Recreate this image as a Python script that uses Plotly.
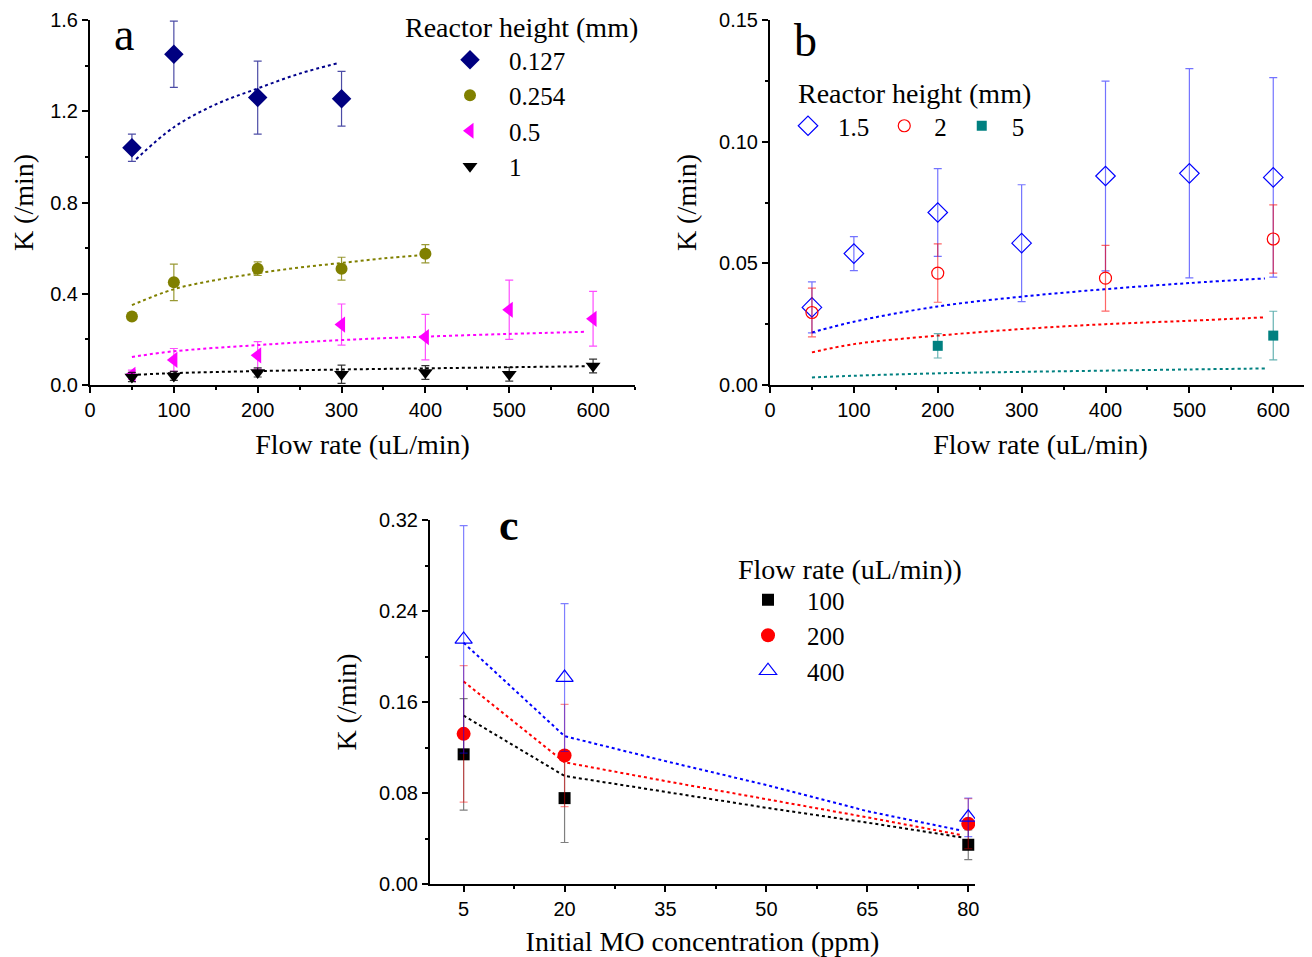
import plotly.graph_objects as go

# ---------------- Panel a data ----------------
a_flow_0127 = [50, 100, 200, 300]
a_k_0127 = [1.04, 1.45, 1.26, 1.255]
a_err_0127 = [0.06, 0.145, 0.16, 0.12]

a_flow_0254 = [50, 100, 200, 300, 400]
a_k_0254 = [0.30, 0.45, 0.51, 0.51, 0.575]
a_err_0254 = [0.01, 0.08, 0.03, 0.05, 0.04]

a_flow_05 = [50, 100, 200, 300, 400, 500, 600]
a_k_05 = [0.045, 0.11, 0.13, 0.265, 0.21, 0.33, 0.29]
a_err_05 = [0.02, 0.05, 0.06, 0.09, 0.10, 0.13, 0.12]

a_flow_1 = [50, 100, 200, 300, 400, 500, 600]
a_k_1 = [0.035, 0.04, 0.055, 0.047, 0.055, 0.047, 0.083]
a_err_1 = [0.02, 0.02, 0.02, 0.04, 0.03, 0.03, 0.03]

a_fitx_0127 = [55, 100, 150, 200, 250, 295]
a_fit_0127 = [0.99, 1.13, 1.23, 1.30, 1.365, 1.41]
a_fitx_0254 = [50, 100, 150, 200, 250, 300, 350, 400]
a_fit_0254 = [0.35, 0.42, 0.46, 0.49, 0.515, 0.535, 0.555, 0.57]
a_fitx_05 = [50, 100, 200, 300, 400, 500, 590]
a_fit_05 = [0.123, 0.148, 0.175, 0.197, 0.212, 0.224, 0.233]
a_fitx_1 = [50, 100, 200, 300, 400, 500, 590]
a_fit_1 = [0.044, 0.052, 0.061, 0.068, 0.073, 0.078, 0.082]

# ---------------- Panel b data ----------------
b_flow_15 = [50, 100, 200, 300, 400, 500, 600]
b_k_15 = [0.0319, 0.054, 0.0709, 0.0583, 0.0859, 0.087, 0.0853]
b_err_15 = [0.0105, 0.007, 0.018, 0.024, 0.039, 0.043, 0.041]

b_flow_2 = [50, 200, 400, 600]
b_k_2 = [0.0298, 0.046, 0.0439, 0.060]
b_err_2 = [0.010, 0.012, 0.0135, 0.014]

b_flow_5 = [200, 600]
b_k_5 = [0.0161, 0.0203]
b_err_5 = [0.005, 0.010]

b_fitx = [50, 100, 200, 300, 400, 500, 590]
b_fit_15 = [0.0216, 0.026, 0.0323, 0.0363, 0.0394, 0.0419, 0.0438]
b_fit_2 = [0.0134, 0.0168, 0.0203, 0.023, 0.025, 0.0264, 0.0278]
b_fit_5 = [0.0031, 0.0038, 0.0048, 0.0054, 0.0059, 0.0064, 0.0068]

# ---------------- Panel c data ----------------
c_conc = [5, 20, 80]
c_k_100 = [0.114, 0.0755, 0.0345]
c_err_100 = [0.049, 0.039, 0.013]
c_k_200 = [0.132, 0.113, 0.053]
c_err_200 = [0.06, 0.045, 0.022]
c_k_400 = [0.215, 0.1815, 0.0586]
c_err_400 = [0.10, 0.065, 0.017]

c_fitx = [5, 20, 35, 50, 65, 79]
c_fit_100 = [0.148, 0.095, 0.081, 0.067, 0.054, 0.041]
c_fit_200 = [0.178, 0.107, 0.0905, 0.0747, 0.0586, 0.043]
c_fit_400 = [0.212, 0.130, 0.108, 0.087, 0.064, 0.047]

SERIF = "Liberation Serif, Times New Roman, serif"
SANS = "Liberation Sans, Arial, sans-serif"

fig = go.Figure()


def pts(x, y, err, name, color, errcolor, symbol, size, xa, ya, legend, lw=0):
    fig.add_trace(go.Scatter(
        x=x, y=y, mode="markers", name=name, xaxis=xa, yaxis=ya, legend=legend,
        marker=dict(symbol=symbol, size=size, color=color, line=dict(width=lw, color=color)),
        error_y=dict(type="data", array=err, visible=True, color=errcolor, thickness=1.2, width=4),
    ))


def fit(x, y, color, xa, ya, shape="spline"):
    fig.add_trace(go.Scatter(
        x=x, y=y, mode="lines", showlegend=False, xaxis=xa, yaxis=ya,
        line=dict(color=color, width=2, dash="dot", shape=shape),
    ))


# Panel a
fit(a_fitx_0127, a_fit_0127, "#00008B", "x", "y")
fit(a_fitx_0254, a_fit_0254, "#808000", "x", "y")
fit(a_fitx_05, a_fit_05, "#FF00FF", "x", "y")
fit(a_fitx_1, a_fit_1, "#000000", "x", "y")
pts(a_flow_0127, a_k_0127, a_err_0127, "0.127", "#000080", "rgba(0,0,128,0.7)", "diamond", 15, "x", "y", "legend")
pts(a_flow_0254, a_k_0254, a_err_0254, "0.254", "#808000", "rgba(128,128,0,0.8)", "circle", 12, "x", "y", "legend")
pts(a_flow_05, a_k_05, a_err_05, "0.5", "#FF00FF", "rgba(255,0,255,0.7)", "triangle-left", 14, "x", "y", "legend")
pts(a_flow_1, a_k_1, a_err_1, "1", "#000000", "rgba(0,0,0,0.8)", "triangle-down", 13, "x", "y", "legend")

# Panel b
fit(b_fitx, b_fit_15, "#0000FF", "x2", "y2")
fit(b_fitx, b_fit_2, "#FF0000", "x2", "y2")
fit(b_fitx, b_fit_5, "#008080", "x2", "y2")
pts(b_flow_15, b_k_15, b_err_15, "1.5", "#0000FF", "rgba(0,0,255,0.55)", "diamond-open", 15, "x2", "y2", "legend2", 1.2)
pts(b_flow_2, b_k_2, b_err_2, "2", "#FF0000", "rgba(255,0,0,0.6)", "circle-open", 12, "x2", "y2", "legend2", 1.2)
pts(b_flow_5, b_k_5, b_err_5, "5", "#008080", "rgba(0,128,128,0.6)", "square", 10, "x2", "y2", "legend2")

# Panel c
fit(c_fitx, c_fit_100, "#000000", "x3", "y3", "linear")
fit(c_fitx, c_fit_200, "#FF0000", "x3", "y3", "linear")
fit(c_fitx, c_fit_400, "#0000FF", "x3", "y3", "linear")
pts(c_conc, c_k_100, c_err_100, "100", "#000000", "rgba(0,0,0,0.5)", "square", 12, "x3", "y3", "legend3")
pts(c_conc, c_k_200, c_err_200, "200", "#FF0000", "rgba(255,0,0,0.45)", "circle", 14, "x3", "y3", "legend3")
pts(c_conc, c_k_400, c_err_400, "400", "#0000FF", "rgba(0,0,255,0.5)", "triangle-up-open", 15, "x3", "y3", "legend3", 1.2)

# The page body adds an 8 px margin, so the figure is made 8 px smaller and
# reference pixel positions are shifted by 8 px.
OFF = 8
W, H = 1312 - OFF, 957 - OFF


def dx(p):
    return (p - OFF) / W


def dy(p):
    return 1 - (p - OFF) / H


def xaxis(domain, rng, dtick, minor, anchor, title):
    return dict(
        domain=domain, range=rng, anchor=anchor, showgrid=False, zeroline=False, automargin=False,
        showline=True, linecolor="black", linewidth=2, ticks="outside", ticklen=6,
        tickwidth=1.5, tickcolor="black", tick0=0, dtick=dtick,
        minor=dict(ticks="outside", ticklen=3, dtick=minor, tickcolor="black", tickwidth=1.5),
        tickfont=dict(family=SANS, size=20, color="black"),
        title=dict(text=title, font=dict(family=SERIF, size=28, color="black"), standoff=14),
    )


def yaxis(domain, rng, dtick, minor, anchor, fmt):
    return dict(
        domain=domain, range=rng, anchor=anchor, showgrid=False, zeroline=False, automargin=False,
        showline=True, linecolor="black", linewidth=2, ticks="outside", ticklen=6,
        tickwidth=1.5, tickcolor="black", tick0=0, dtick=dtick, tickformat=fmt,
        minor=dict(ticks="outside", ticklen=3, dtick=minor, tickcolor="black", tickwidth=1.5),
        tickfont=dict(family=SANS, size=20, color="black"),
        title=dict(text="K (/min)", font=dict(family=SERIF, size=28, color="black"), standoff=14),
    )


xa = xaxis([dx(90), dx(635)], [0, 650], 100, 50, "y", "Flow rate (uL/min)")
ya = yaxis([dy(385), dy(20)], [0, 1.6], 0.4, 0.2, "x", ".1f")
xb = xaxis([dx(770), dx(1311)], [0, 645], 100, 50, "y2", "Flow rate (uL/min)")
yb = yaxis([dy(385), dy(20)], [0, 0.15], 0.05, 0.025, "x2", ".2f")
xc = xaxis([dx(430), dx(975)], [0, 81], 15, 7.5, "y3", "Initial MO concentration (ppm)")
xc["tick0"] = 5
xc["minor"]["tick0"] = 5 - 7.5
yc = yaxis([dy(884), dy(520)], [0, 0.32], 0.08, 0.04, "x3", ".2f")

legfont = dict(family=SERIF, size=25, color="black")
titlefont = dict(family=SERIF, size=28, color="black")
leg_common = dict(font=legfont, bgcolor="rgba(0,0,0,0)", borderwidth=0,
                  xanchor="left", yanchor="top", tracegroupgap=0)

annotations = [
    dict(text="a", x=dx(112), y=dy(35), xref="paper", yref="paper", showarrow=False,
         xanchor="left", yanchor="middle", font=dict(family=SERIF, size=46, color="black")),
    dict(text="b", x=dx(792), y=dy(40), xref="paper", yref="paper", showarrow=False,
         xanchor="left", yanchor="middle", font=dict(family=SERIF, size=46, color="black")),
    dict(text="<b>c</b>", x=dx(497), y=dy(525), xref="paper", yref="paper", showarrow=False,
         xanchor="left", yanchor="middle", font=dict(family=SERIF, size=44, color="black")),
    dict(text="Reactor height (mm)", x=dx(403), y=dy(28), xref="paper", yref="paper", showarrow=False,
         xanchor="left", yanchor="middle", font=titlefont),
    dict(text="Reactor height (mm)", x=dx(796), y=dy(93), xref="paper", yref="paper", showarrow=False,
         xanchor="left", yanchor="middle", font=titlefont),
    dict(text="Flow rate (uL/min))", x=dx(736), y=dy(569), xref="paper", yref="paper", showarrow=False,
         xanchor="left", yanchor="middle", font=titlefont),
]

fig.update_layout(
    width=W, height=H, margin=dict(l=0, r=0, t=0, b=0, autoexpand=False),
    plot_bgcolor="white", paper_bgcolor="white",
    xaxis=xa, yaxis=ya, xaxis2=xb, yaxis2=yb, xaxis3=xc, yaxis3=yc,
    legend=dict(x=dx(431), y=dy(37), orientation="v", itemwidth=68, **leg_common),
    legend2=dict(x=dx(778), y=dy(103), orientation="h", itemwidth=50, **leg_common),
    legend3=dict(x=dx(729), y=dy(577), orientation="v", itemwidth=68, **leg_common),
    annotations=annotations,
    showlegend=True,
)

fig.write_html("out.html")
